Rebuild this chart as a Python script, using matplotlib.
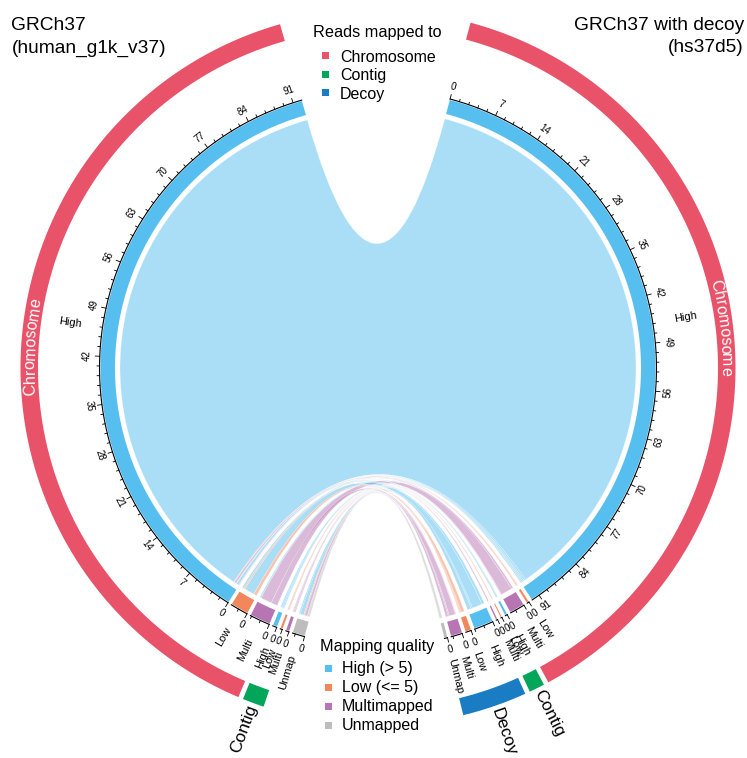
import numpy as np
import matplotlib
matplotlib.use("Agg")
import matplotlib.pyplot as plt
from matplotlib.path import Path
from matplotlib.patches import PathPatch, Polygon, Rectangle
from matplotlib.font_manager import FontProperties

plt.rcParams['font.family'] = ['Liberation Sans', 'DejaVu Sans']

# ---------------- data ----------------
quality_names = ["High", "Low", "Multi", "Unmap"]
quality_legend = ["High (> 5)", "Low (<= 5)", "Multimapped", "Unmapped"]
quality_colors = ["#56BFEF", "#F2875C", "#B776B3", "#BDBDBD"]
group_names = ["Chromosome", "Contig", "Decoy"]
group_colors = ["#E9536A", "#03A55B", "#1A7DC4"]

# sectors listed clockwise
left_quality = ["Unmap", "Multi", "Low", "High", "Multi", "Low", "High"]
left_group = [None, "Contig", "Contig", "Contig", "Chromosome", "Chromosome", "Chromosome"]
right_quality = ["High", "Low", "Multi", "High", "Low", "Multi", "High", "Low", "Multi", "Unmap"]
right_group = ["Chromosome"] * 3 + ["Contig"] * 3 + ["Decoy"] * 4

# reads (millions): rows = GRCh37 sectors (clockwise), cols = hs37d5 sectors (clockwise)
#            chrH   chrL  chrM  ctgH  ctgL  ctgM  dcH   dcL   dcM   Unmap
flows = np.array([
    [0.20, 0.00, 0.00, 0.00, 0.00, 0.00, 0.60, 0.15, 0.40, 0.45],   # Unmap
    [0.00, 0.00, 0.10, 0.00, 0.00, 0.20, 0.00, 0.00, 0.15, 0.00],   # Contig Multi
    [0.00, 0.00, 0.00, 0.00, 0.15, 0.00, 0.00, 0.15, 0.00, 0.00],   # Contig Low
    [0.20, 0.00, 0.00, 0.20, 0.00, 0.00, 0.20, 0.00, 0.00, 0.00],   # Contig High
    [0.20, 0.00, 1.80, 0.00, 0.00, 0.00, 0.00, 0.00, 1.00, 0.00],   # Chromosome Multi
    [0.30, 0.20, 0.00, 0.00, 0.00, 0.00, 1.60, 0.50, 0.00, 0.00],   # Chromosome Low
    [91.3, 0.10, 0.30, 0.10, 0.00, 0.00, 0.40, 0.00, 0.10, 0.00],   # Chromosome High
])

title_left = ["GRCh37", "(human_g1k_v37)"]
title_right = ["GRCh37 with decoy", "(hs37d5)"]

# ---------------- layout ----------------
W, H = 747, 758
cx, cy = 378.0, 368.0
dpu = 1.425          # degrees per unit
gap = 0.8
right_start = 15.0
left_start = 195.3
r_link = 258.0
r_tr_in, r_tr_out = 263.0, 277.5
r_axis = 278.5
r_ring_in, r_ring_out = 340.0, 357.5

left_size = flows.sum(axis=1)
right_size = flows.sum(axis=0)


def layout(start, sizes):
    s, e = [], []
    cur = start
    for v in sizes:
        s.append(cur)
        cur += v * dpu
        e.append(cur)
        cur += gap
    return np.array(s), np.array(e)


ls, le = layout(left_start, left_size)
rs, re_ = layout(right_start, right_size)


def pt(theta, r):
    t = np.deg2rad(theta)
    return (cx + r * np.sin(t), cy - r * np.cos(t))


def arc(t1, t2, r):
    n = max(2, int(abs(t2 - t1) * 3) + 2)
    return [pt(t, r) for t in np.linspace(t1, t2, n)]


def band(t1, t2, r1, r2):
    return arc(t1, t2, r2) + arc(t2, t1, r1)


fig = plt.figure(figsize=(W / 100, H / 100), dpi=100)
ax = fig.add_axes([0, 0, 1, 1])
ax.set_xlim(0, W)
ax.set_ylim(H, 0)
ax.axis('off')

qcol = dict(zip(quality_names, quality_colors))
gcol = dict(zip(group_names, group_colors))

# ---------------- links ----------------
nL, nR = flows.shape
lspan = {}
for i in range(nL):
    cur = ls[i]
    for j in reversed(range(nR)):
        v = flows[i, j]
        if v > 0:
            lspan[(i, j)] = (cur, cur + v * dpu)
            cur += v * dpu
rspan = {}
for j in range(nR):
    cur = rs[j]
    for i in reversed(range(nL)):
        v = flows[i, j]
        if v > 0:
            rspan[(i, j)] = (cur, cur + v * dpu)
            cur += v * dpu

links = sorted(lspan.keys(), key=lambda k: -flows[k])
for (i, j) in links:
    a1, a2 = lspan[(i, j)]
    b1, b2 = rspan[(i, j)]
    verts, codes = [], []
    A = arc(a1, a2, r_link)
    verts += A
    codes += [Path.MOVETO] + [Path.LINETO] * (len(A) - 1)
    verts += [(cx, cy), pt(b1, r_link)]
    codes += [Path.CURVE3] * 2
    B = arc(b1, b2, r_link)[1:]
    verts += B
    codes += [Path.LINETO] * len(B)
    verts += [(cx, cy), pt(a1, r_link)]
    codes += [Path.CURVE3] * 2
    verts.append(pt(a1, r_link))
    codes.append(Path.CLOSEPOLY)
    c = qcol[right_quality[j]]
    ax.add_patch(PathPatch(Path(verts, codes), facecolor=c, alpha=0.5,
                           edgecolor='white', lw=0.4, zorder=1))


# ---------------- text helpers ----------------
def radial_text(theta, r, s, fs, color='black'):
    phi = (90 - theta + 180) % 360 - 180
    if -90 <= phi <= 90:
        rot, ha = phi, 'left'
    else:
        rot, ha = phi + 180, 'right'
    x, y = pt(theta, r)
    ax.text(x, y, s, rotation=rot, ha=ha, va='center', rotation_mode='anchor',
            fontsize=fs, color=color, zorder=5)


def inside_rot(theta):
    t = theta % 360
    if 90 < t < 270:
        return 180 - t
    return -t


# ---------------- tracks + axes ----------------
def draw_sector(t1, size, qual):
    t2 = t1 + size * dpu
    ax.add_patch(Polygon(band(t1, t2, r_tr_in, r_tr_out), closed=True,
                         facecolor=qcol[qual], edgecolor='none', zorder=3))
    ax.plot(*zip(*arc(t1, t2, r_axis)), color='black', lw=0.8, zorder=4)
    k = 0
    while k * 1.4 <= size + 1e-9:
        u = k * 1.4
        th = t1 + u * dpu
        major = (k % 5 == 0)
        L = 4.5 if major else 2.5
        p0, p1 = pt(th, r_axis), pt(th, r_axis + L)
        ax.plot([p0[0], p1[0]], [p0[1], p1[1]], color='black', lw=0.6, zorder=4)
        if major:
            x, y = pt(th, r_axis + 12.5)
            ax.text(x, y, str(int(round(u))), fontsize=7, ha='center', va='center',
                    rotation=inside_rot(th), rotation_mode='anchor', zorder=5)
        k += 1
    radial_text((t1 + t2) / 2, 300, qual, 8)


for i in range(nL):
    draw_sector(ls[i], left_size[i], left_quality[i])
for j in range(nR):
    draw_sector(rs[j], right_size[j], right_quality[j])

# ---------------- outer group ring ----------------
fp_ring = FontProperties(family='Liberation Sans', size=11.5)
renderer = fig.canvas.get_renderer()


def tw(s, fp):
    if s == '':
        return 0.0
    w, h, d = renderer.get_text_width_height_descent(s, fp, ismath=False)
    return w


def bending_text(theta_c, r_base, s, fp, color):
    total = tw(s, fp)
    t_start = theta_c - np.rad2deg(total / 2 / r_base)
    for k, ch in enumerate(s):
        off = tw(s[:k], fp) + tw(ch, fp) / 2
        th = t_start + np.rad2deg(off / r_base)
        x, y = pt(th, r_base)
        ax.text(x, y, ch, fontproperties=fp, color=color, ha='center', va='baseline',
                rotation=-th, rotation_mode='anchor', zorder=6)


def draw_groups(starts, ends, groups):
    seen = []
    for g in groups:
        if g is not None and g not in seen:
            seen.append(g)
    for g in seen:
        idx = [k for k, gg in enumerate(groups) if gg == g]
        t1, t2 = starts[idx[0]], ends[idx[-1]]
        ax.add_patch(Polygon(band(t1, t2, r_ring_in, r_ring_out), closed=True,
                             facecolor=gcol[g], edgecolor='none', zorder=3))
        tc = (t1 + t2) / 2
        if t2 - t1 > 20:
            bending_text(tc, 343.5, g, fp_ring, 'white')
        else:
            radial_text(tc, 360, g, 12.5)


draw_groups(ls, le, left_group)
draw_groups(rs, re_, right_group)

# ---------------- legends ----------------
ax.text(313, 36.5, "Reads mapped to", fontsize=11.7, va='baseline', ha='left')
for k, (g, c) in enumerate(zip(group_names, group_colors)):
    yb = 61.5 + k * 18.5
    ax.add_patch(Rectangle((321.5, yb - 9.5), 7, 7, facecolor=c, edgecolor='none'))
    ax.text(340, yb, g, fontsize=11.5, va='baseline', ha='left')

ax.text(320, 651.5, "Mapping quality", fontsize=11.7, va='baseline', ha='left')
for k, (g, c) in enumerate(zip(quality_legend, quality_colors)):
    yb = 673 + k * 19
    ax.add_patch(Rectangle((325, yb - 8.5), 7, 7, facecolor=c, edgecolor='none'))
    ax.text(341.5, yb, g, fontsize=11.5, va='baseline', ha='left')

# ---------------- titles ----------------
ax.text(11.5, 30.5, title_left[0], fontsize=13.8, ha='left', va='baseline')
ax.text(11.5, 52.5, title_left[1], fontsize=13.8, ha='left', va='baseline')
ax.text(744, 30.0, title_right[0], fontsize=13.8, ha='right', va='baseline')
ax.text(744, 51.5, title_right[1], fontsize=13.8, ha='right', va='baseline')

fig.savefig("out.png", dpi=100)
